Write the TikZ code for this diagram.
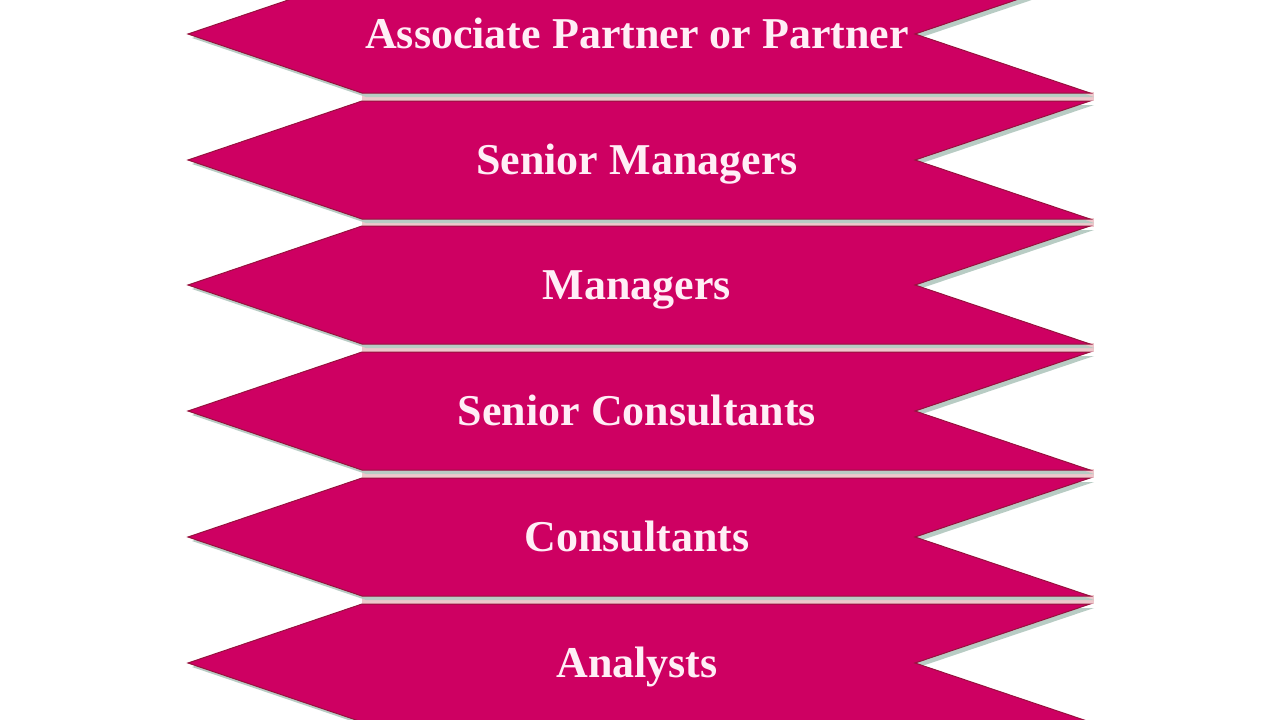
\documentclass[tikz,border=0pt]{standalone}
\usepackage{fontspec}
\setmainfont{Liberation Serif}
\usepackage{tikz}
\usetikzlibrary{positioning}
%
\definecolor{ribbonfill}{RGB}{206,0,98}
\definecolor{ribbonedge}{RGB}{150,18,62}
\definecolor{ribbongap}{RGB}{238,200,204}
\definecolor{ribbonshade}{RGB}{184,204,196}
\definecolor{ribbontext}{RGB}{255,238,246}
%
\tikzset{
  ribbon/.style={fill=ribbonfill,draw=ribbonedge,line width=1pt,line join=miter},
  ribbon shade/.style={fill=ribbonshade},
  ribbon gap/.style={fill=ribbongap},
  ribbon label/.style={text=ribbontext,font=\fontsize{44}{50}\selectfont\bfseries,inner sep=0pt}
}
%
% #1 = centre line, #2 = node name, #3 = label
\newcommand{\Ribbon}[3]{%
  \fill[ribbon gap] (362,{#1+58}) -- (1094,{#1+58}) -- (1094,{#1+67}) -- (362,{#1+67}) -- cycle;
  \fill[ribbon shade] (192,{#1+4}) -- ++(174,-59) -- ++(728,0) -- ++(-175,59)
    -- ++(175,59) -- ++(-728,0) -- cycle;
  \filldraw[ribbon] (188,#1) -- ++(174,-59) -- ++(728,0) -- ++(-175,59)
    -- ++(175,59) -- ++(-728,0) -- cycle;
  \node[ribbon label,anchor=base] (#2) at (637,{#1+14}) {#3};
}
%
\begin{document}
\begin{tikzpicture}[x=1pt,y=-1pt]
%
\useasboundingbox (0,0) rectangle (1280,720);
%
\Ribbon{34}{partner}{Associate Partner or Partner}
\Ribbon{160}{srmanager}{Senior Managers}
\Ribbon{285}{manager}{Managers}
\Ribbon{411}{srconsultant}{Senior Consultants}
\Ribbon{537}{consultant}{Consultants}
\Ribbon{663}{analyst}{Analysts}
%
\end{tikzpicture}
\end{document}
